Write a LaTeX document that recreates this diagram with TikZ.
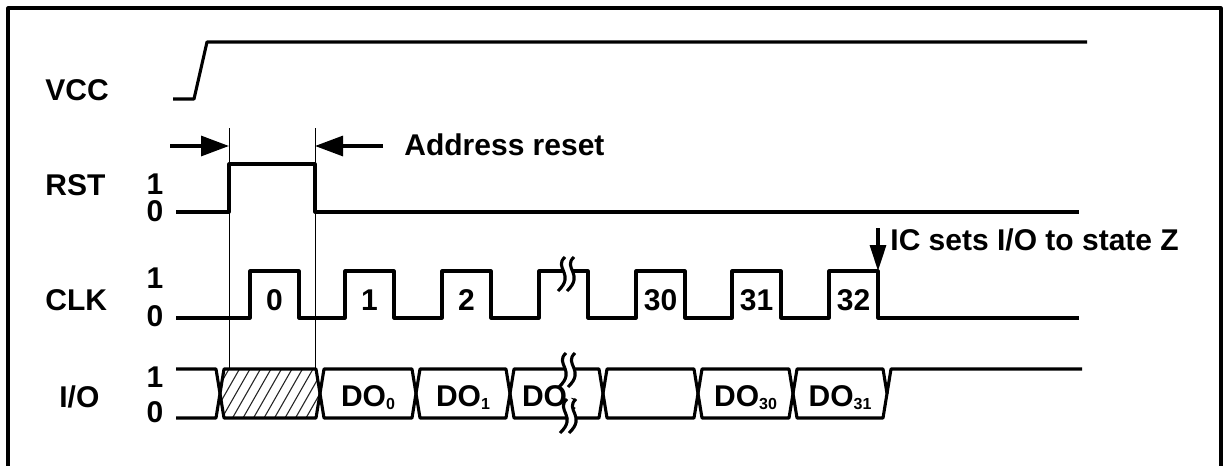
\documentclass[tikz,border=0pt]{standalone}
\usepackage{fontspec}
\setmainfont{Liberation Sans}
\usetikzlibrary{arrows.meta}

\tikzset{
	sig/.style={line width=1.55pt, line join=round},
	guide/.style={line width=0.5pt},
	hatch/.style={line width=0.55pt, black!85},
	lbl/.style={font=\fontsize{15}{18}\selectfont\bfseries, inner sep=0pt, anchor=base},
	pointer/.style={sig, -{Triangle[length=14pt,width=10pt]}},
	zpointer/.style={sig, -{Triangle[length=13pt,width=8pt]}},
}
\newcommand{\dosub}[1]{\raisebox{-1.6pt}{\fontsize{8}{10}\selectfont #1}}
\newcommand{\wavebreak}[1]{%
	\begin{scope}[shift={(#1)}]
		\draw [white, line width=3.5pt] (8,-17) .. controls (-4,-6) and (19,0) .. (1,17);
		\draw [sig] (3,-17) .. controls (-9,-6) and (14,0) .. (-4,17);
		\draw [sig] (12,-17) .. controls (0,-6) and (23,0) .. (5,17);
	\end{scope}}

\begin{document}
\begin{tikzpicture}[x=0.5pt, y=-0.5pt]
	\useasboundingbox (0,0) rectangle (1229,465);
	\draw [sig] (8,470) -- (8,8) -- (1221,8) -- (1221,470);
	% signal names and levels
	\node [lbl, anchor=base west] (vcc) at (45,100) {VCC};
	\node [lbl, anchor=base west] (rst) at (45,195) {RST};
	\node [lbl, anchor=base west] (clk) at (45,310) {CLK};
	\node [lbl, anchor=base west] (io) at (59,407) {I/O};
	\foreach \nm/\y/\v in {rsthi/194/1, rstlo/221/0, clkhi/288/1, clklo/326/0, iohi/387/1, iolo/422/0}
		\node [lbl] (\nm) at (155,\y) {\v};
	% VCC and RST
	\draw [sig] (173,99) -- (194,99) -- (207,42) -- (1087,42);
	\draw [sig] (176,212) -- (229,212) -- (229,164) -- (315,164) -- (315,212) -- (1079,212);
	\draw [guide] (229,128) -- (229,369);
	\draw [guide] (315,128) -- (315,369);
	\coordinate (rsup) at (229,146);
	\coordinate (rsdn) at (315,146);
	\coordinate (arrl) at (170,146);
	\coordinate (arrr) at (383,146);
	\draw [pointer] (arrl) -- (rsup);
	\draw [pointer] (arrr) -- (rsdn);
	\node [lbl, anchor=base west] (addr) at (404,155) {Address reset};
	% CLK
	\draw [sig] (176,318) foreach \r in {250,345,442,539,636,732,829} {
		-- (\r,318) -- (\r,271) -- ({\r+49},271) -- ({\r+49},318) } -- (1079,318);
	\foreach \r/\n in {250/0, 345/1, 442/2, 636/30, 732/31, 829/32}
		\node [lbl] (p\n) at ({\r+24.5},310) {\n};
	\coordinate (zfall) at (878,271);
	\coordinate (ztop) at (878,228);
	\draw [zpointer] (ztop) -- (zfall);
	\node [lbl, anchor=base west] (hiz) at (890,250) {IC sets I/O to state Z};
	% I/O bus
	\begin{scope}
		\clip (220,393.5) -- (224,369) -- (316,369) -- (320,393.5) -- (316,418) -- (224,418) -- cycle;
		\foreach \h in {0,...,14}
			\draw [hatch] ({180+10.5*\h},418) -- ({208+10.5*\h},369);
	\end{scope}
	\draw [sig] (176,369) -- (216,369) -- (220,393.5) -- (216,418) -- (176,418);
	\foreach \a/\b in {220/320, 320/416, 416/510, 510/603, 603/698, 698/793, 793/887}
		\draw [sig] (\a,393.5) -- ({\a+4},369) -- ({\b-4},369) -- (\b,393.5) -- ({\b-4},418) -- ({\a+4},418) -- cycle;
	\draw [sig] (887,393.5) -- (891,369) -- (1082,369);
	\node [lbl] (do0) at (368,406) {DO\dosub{0}};
	\node [lbl] (do1) at (463,406) {DO\dosub{1}};
	\node [lbl] (do2) at (549,406) {DO\dosub{2}};
	\node [lbl] (do30) at (745.5,406) {DO\dosub{30}};
	\node [lbl] (do31) at (840,406) {DO\dosub{31}};
	% breaks
	\wavebreak{562,274}
	\wavebreak{563,370}
	\wavebreak{564,416}
\end{tikzpicture}
\end{document}
